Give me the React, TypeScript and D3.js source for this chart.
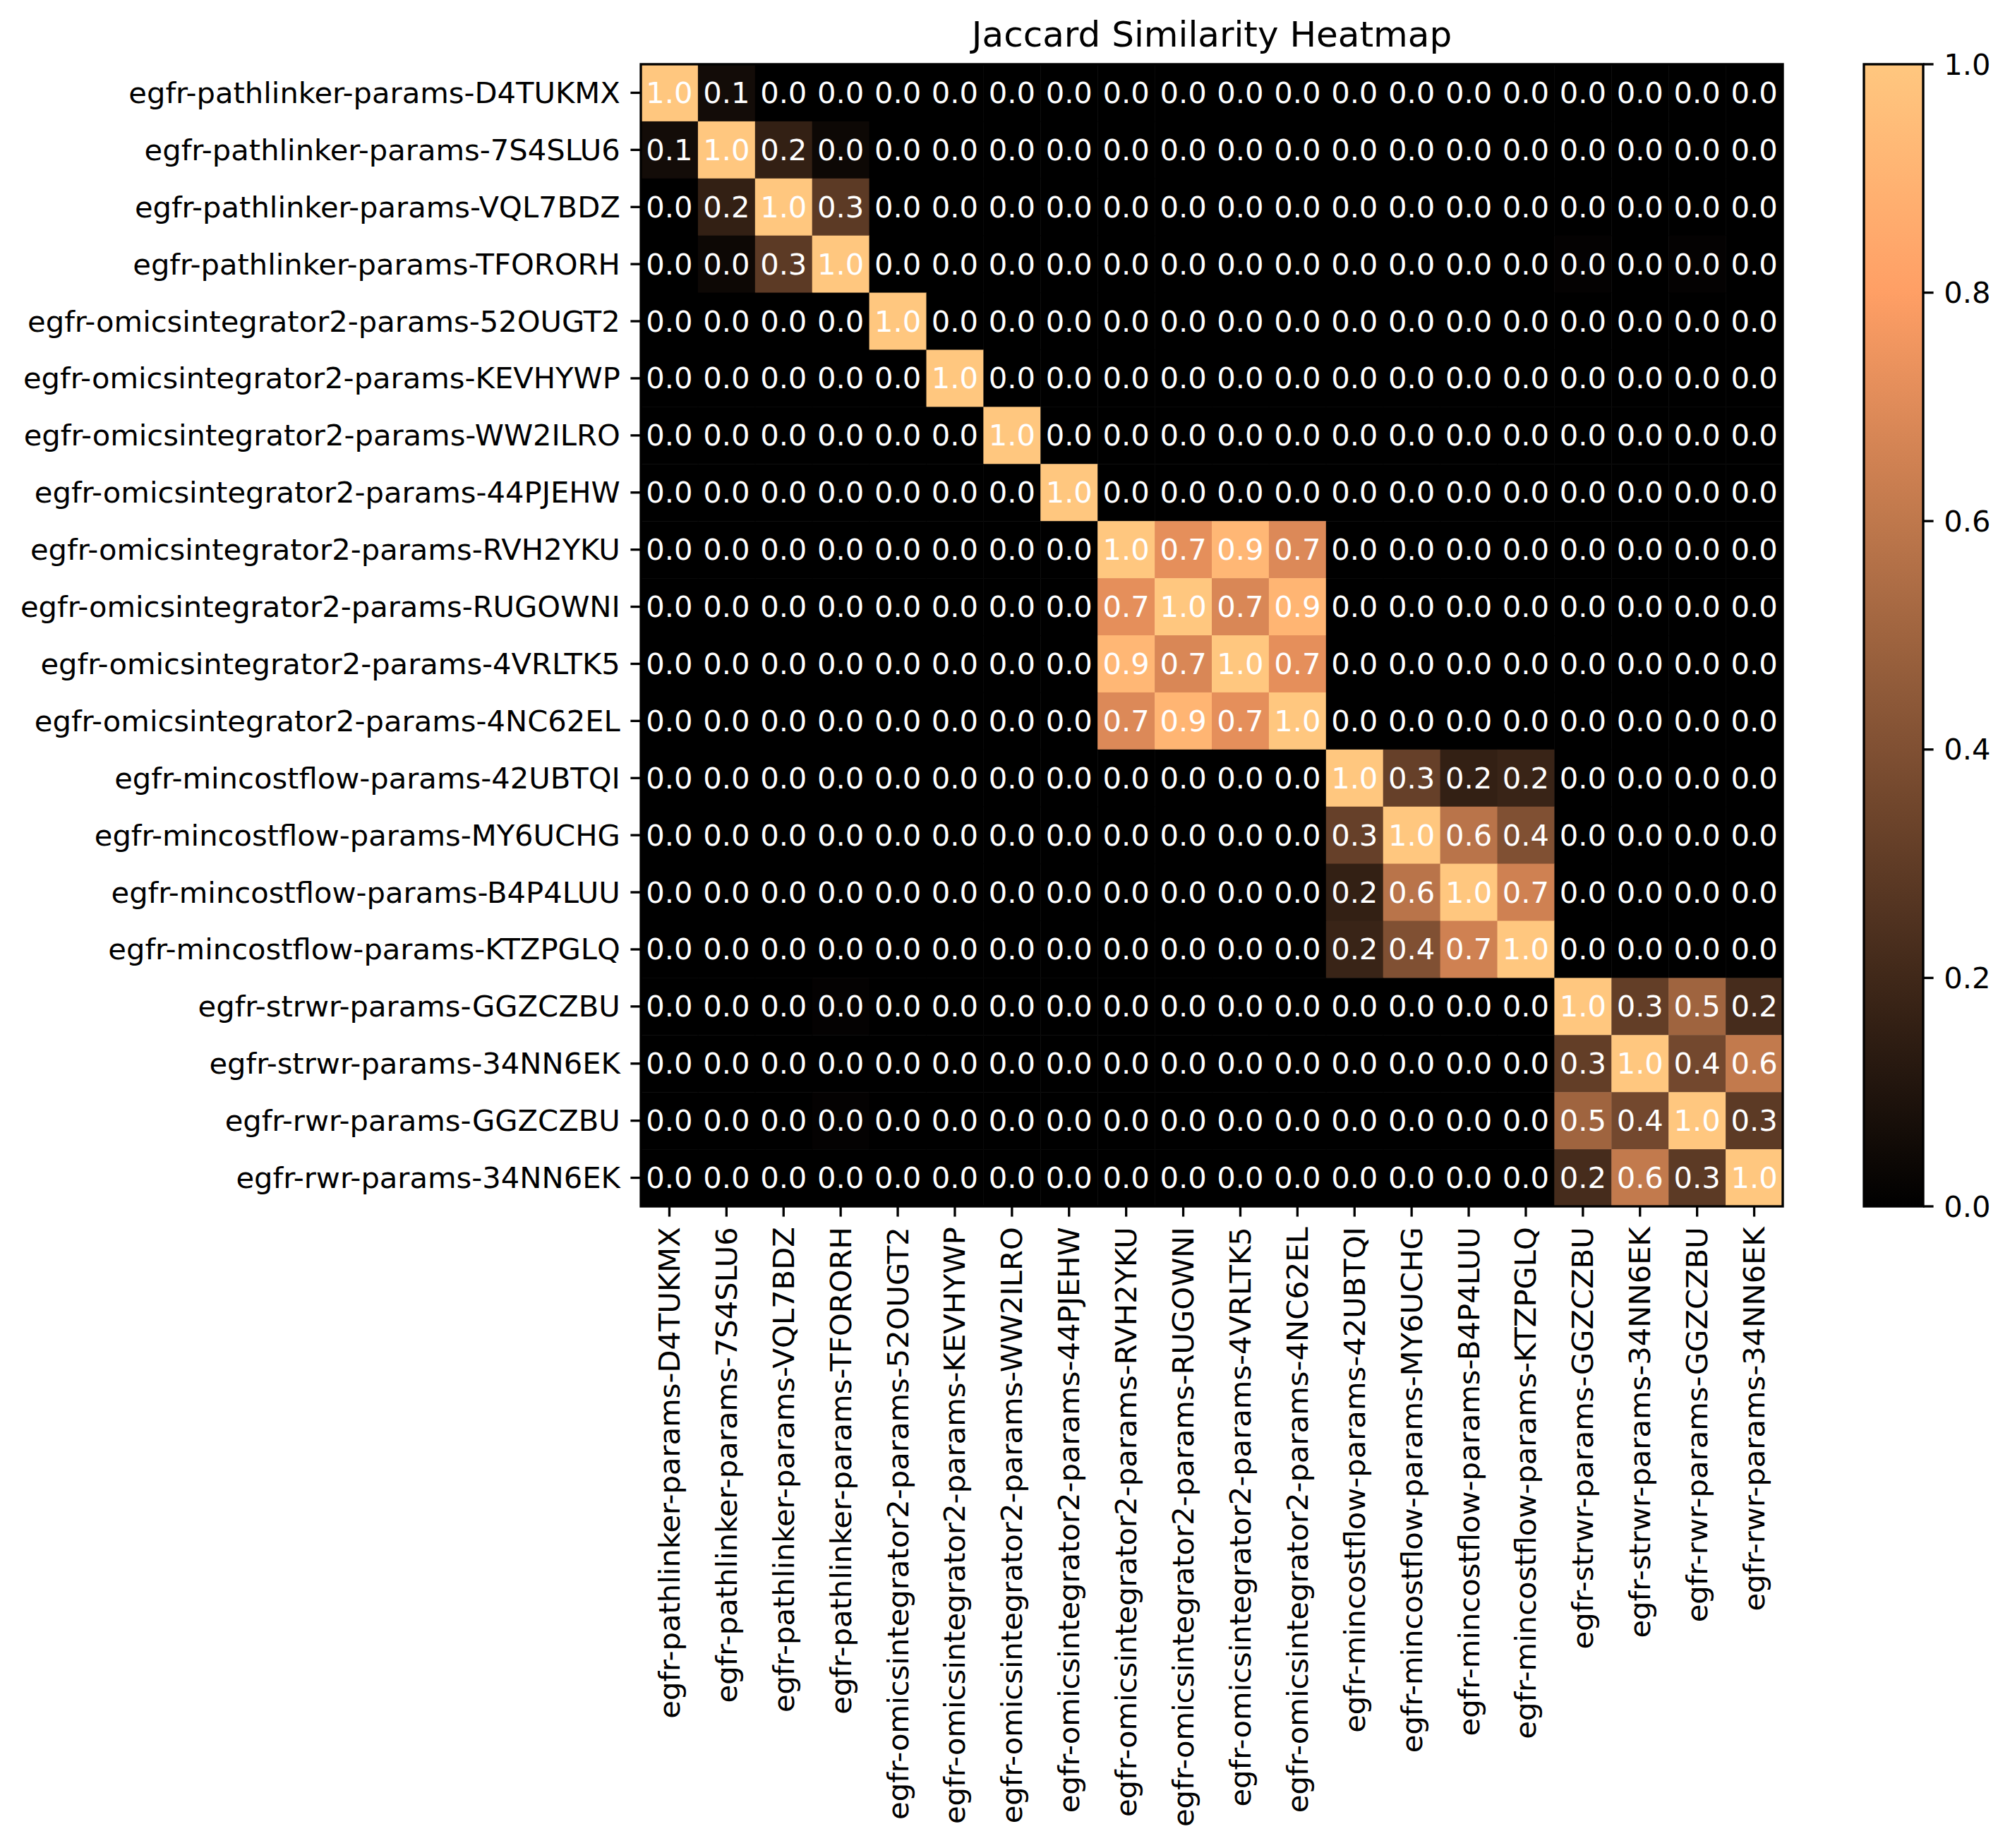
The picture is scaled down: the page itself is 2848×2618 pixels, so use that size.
import React, { useEffect, useRef } from 'react'
import * as d3 from 'd3'

// row / column labels (same order on both axes)
const labels = [
  'egfr-pathlinker-params-D4TUKMX',
  'egfr-pathlinker-params-7S4SLU6',
  'egfr-pathlinker-params-VQL7BDZ',
  'egfr-pathlinker-params-TFORORH',
  'egfr-omicsintegrator2-params-52OUGT2',
  'egfr-omicsintegrator2-params-KEVHYWP',
  'egfr-omicsintegrator2-params-WW2ILRO',
  'egfr-omicsintegrator2-params-44PJEHW',
  'egfr-omicsintegrator2-params-RVH2YKU',
  'egfr-omicsintegrator2-params-RUGOWNI',
  'egfr-omicsintegrator2-params-4VRLTK5',
  'egfr-omicsintegrator2-params-4NC62EL',
  'egfr-mincostflow-params-42UBTQI',
  'egfr-mincostflow-params-MY6UCHG',
  'egfr-mincostflow-params-B4P4LUU',
  'egfr-mincostflow-params-KTZPGLQ',
  'egfr-strwr-params-GGZCZBU',
  'egfr-strwr-params-34NN6EK',
  'egfr-rwr-params-GGZCZBU',
  'egfr-rwr-params-34NN6EK',
]

// jaccard similarity
const similarity = [
  [1.0, 0.06, 0, 0, 0, 0, 0, 0, 0, 0, 0, 0, 0, 0, 0, 0, 0, 0, 0, 0],
  [0.06, 1.0, 0.16, 0.04, 0, 0, 0, 0, 0, 0, 0, 0, 0, 0, 0, 0, 0, 0, 0, 0],
  [0, 0.16, 1.0, 0.29, 0, 0, 0, 0, 0, 0, 0, 0, 0, 0, 0, 0, 0, 0, 0, 0],
  [0, 0.04, 0.29, 1.0, 0, 0, 0, 0, 0, 0, 0, 0, 0, 0, 0, 0, 0.012, 0, 0.012, 0],
  [0, 0, 0, 0, 1.0, 0, 0, 0, 0, 0, 0, 0, 0, 0, 0, 0, 0, 0, 0, 0],
  [0, 0, 0, 0, 0, 1.0, 0, 0, 0, 0, 0, 0, 0, 0, 0, 0, 0, 0, 0, 0],
  [0, 0, 0, 0, 0, 0, 1.0, 0, 0, 0, 0, 0, 0, 0, 0, 0, 0, 0, 0, 0],
  [0, 0, 0, 0, 0, 0, 0, 1.0, 0, 0, 0, 0, 0, 0, 0, 0, 0, 0, 0, 0],
  [0, 0, 0, 0, 0, 0, 0, 0, 1.0, 0.72, 0.92, 0.69, 0, 0, 0, 0, 0, 0, 0, 0],
  [0, 0, 0, 0, 0, 0, 0, 0, 0.72, 1.0, 0.68, 0.91, 0, 0, 0, 0, 0, 0, 0, 0],
  [0, 0, 0, 0, 0, 0, 0, 0, 0.92, 0.68, 1.0, 0.72, 0, 0, 0, 0, 0, 0, 0, 0],
  [0, 0, 0, 0, 0, 0, 0, 0, 0.69, 0.91, 0.72, 1.0, 0, 0, 0, 0, 0, 0, 0, 0],
  [0, 0, 0, 0, 0, 0, 0, 0, 0, 0, 0, 0, 1.0, 0.32, 0.16, 0.18, 0, 0, 0, 0],
  [0, 0, 0, 0, 0, 0, 0, 0, 0, 0, 0, 0, 0.32, 1.0, 0.58, 0.4, 0, 0, 0, 0],
  [0, 0, 0, 0, 0, 0, 0, 0, 0, 0, 0, 0, 0.16, 0.58, 1.0, 0.65, 0, 0, 0, 0],
  [0, 0, 0, 0, 0, 0, 0, 0, 0, 0, 0, 0, 0.18, 0.4, 0.65, 1.0, 0, 0, 0, 0],
  [0, 0, 0, 0.012, 0, 0, 0, 0, 0, 0, 0, 0, 0, 0, 0, 0, 1.0, 0.31, 0.5, 0.22],
  [0, 0, 0, 0, 0, 0, 0, 0, 0, 0, 0, 0, 0, 0, 0, 0, 0.31, 1.0, 0.36, 0.61],
  [0, 0, 0, 0.012, 0, 0, 0, 0, 0, 0, 0, 0, 0, 0, 0, 0, 0.5, 0.36, 1.0, 0.29],
  [0, 0, 0, 0, 0, 0, 0, 0, 0, 0, 0, 0, 0, 0, 0, 0, 0.22, 0.61, 0.29, 1.0],
]

const colorbarTicks = [0, 0.2, 0.4, 0.6, 0.8, 1.0]

// matplotlib 'copper'
const copper = (v: number) =>
  d3.rgb(Math.min(255, 1.25 * v * 255), 0.7812 * v * 255, 0.4975 * v * 255).toString()

const W = 2848
const H = 2618
const FONT = 'DejaVu Sans, sans-serif'

const App = () => {
  const ref = useRef<SVGSVGElement>(null)

  useEffect(() => {
    const svg = d3.select(ref.current)
    svg.selectAll('*').remove()

    const left = 908
    const top = 91
    const size = 1618
    const tickLen = 14.6
    const lw = 3.33
    const fs = 41.67

    const x = d3.scaleBand().domain(labels).range([left, left + size])
    const y = d3.scaleBand().domain(labels).range([top, top + size])

    const cells = labels.flatMap((r, i) => labels.map((c, j) => ({ r, c, v: similarity[i][j] })))

    const g = svg.append('g')
    g.selectAll('rect.cell')
      .data(cells)
      .enter()
      .append('rect')
      .attr('x', (d) => x(d.c)!)
      .attr('y', (d) => y(d.r)!)
      .attr('width', x.bandwidth() + 0.5)
      .attr('height', y.bandwidth() + 0.5)
      .attr('fill', (d) => copper(d.v))

    g.selectAll('text.val')
      .data(cells)
      .enter()
      .append('text')
      .attr('x', (d) => x(d.c)! + x.bandwidth() / 2)
      .attr('y', (d) => y(d.r)! + y.bandwidth() / 2)
      .attr('text-anchor', 'middle')
      .attr('dominant-baseline', 'central')
      .attr('fill', 'white')
      .attr('font-family', FONT)
      .attr('font-size', fs)
      .text((d) => d.v.toFixed(1))

    // frame
    g.append('rect')
      .attr('x', left)
      .attr('y', top)
      .attr('width', size)
      .attr('height', size)
      .attr('fill', 'none')
      .attr('stroke', 'black')
      .attr('stroke-width', lw)

    // y ticks
    labels.forEach((l) => {
      const cy = y(l)! + y.bandwidth() / 2
      g.append('line')
        .attr('x1', left - tickLen)
        .attr('x2', left)
        .attr('y1', cy)
        .attr('y2', cy)
        .attr('stroke', 'black')
        .attr('stroke-width', lw)
      g.append('text')
        .attr('x', left - tickLen - 14.6)
        .attr('y', cy)
        .attr('text-anchor', 'end')
        .attr('dominant-baseline', 'central')
        .attr('font-family', FONT)
        .attr('font-size', fs)
        .text(l)
    })

    // x ticks
    labels.forEach((l) => {
      const cx = x(l)! + x.bandwidth() / 2
      const yb = top + size
      g.append('line')
        .attr('x1', cx)
        .attr('x2', cx)
        .attr('y1', yb)
        .attr('y2', yb + tickLen)
        .attr('stroke', 'black')
        .attr('stroke-width', lw)
      g.append('text')
        .attr('transform', `translate(${cx},${yb + tickLen + 14.6}) rotate(-90)`)
        .attr('text-anchor', 'end')
        .attr('dominant-baseline', 'central')
        .attr('font-family', FONT)
        .attr('font-size', fs)
        .text(l)
    })

    // title
    g.append('text')
      .attr('x', left + size / 2)
      .attr('y', top - 25)
      .attr('text-anchor', 'middle')
      .attr('font-family', FONT)
      .attr('font-size', 50)
      .text('Jaccard Similarity Heatmap')

    // colorbar
    const cbX = 2641
    const cbW = 84
    const cbScale = d3.scaleLinear().domain([0, 1]).range([top + size, top])
    const grad = svg
      .append('defs')
      .append('linearGradient')
      .attr('id', 'cb')
      .attr('x1', 0)
      .attr('y1', 1)
      .attr('x2', 0)
      .attr('y2', 0)
    d3.range(0, 1.0001, 0.05).forEach((t) => {
      grad.append('stop').attr('offset', t).attr('stop-color', copper(t))
    })
    g.append('rect')
      .attr('x', cbX)
      .attr('y', top)
      .attr('width', cbW)
      .attr('height', size)
      .attr('fill', 'url(#cb)')
      .attr('stroke', 'black')
      .attr('stroke-width', lw)

    colorbarTicks.forEach((t) => {
      const ty = cbScale(t)
      g.append('line')
        .attr('x1', cbX + cbW)
        .attr('x2', cbX + cbW + tickLen)
        .attr('y1', ty)
        .attr('y2', ty)
        .attr('stroke', 'black')
        .attr('stroke-width', lw)
      g.append('text')
        .attr('x', cbX + cbW + tickLen + 14.6)
        .attr('y', ty)
        .attr('dominant-baseline', 'central')
        .attr('font-family', FONT)
        .attr('font-size', fs)
        .text(t.toFixed(1))
    })
  }, [])

  return (
    <svg
      ref={ref}
      width={W}
      height={H}
      style={{ position: 'absolute', left: 0, top: 0, background: 'white' }}
    />
  )
}

export default App
